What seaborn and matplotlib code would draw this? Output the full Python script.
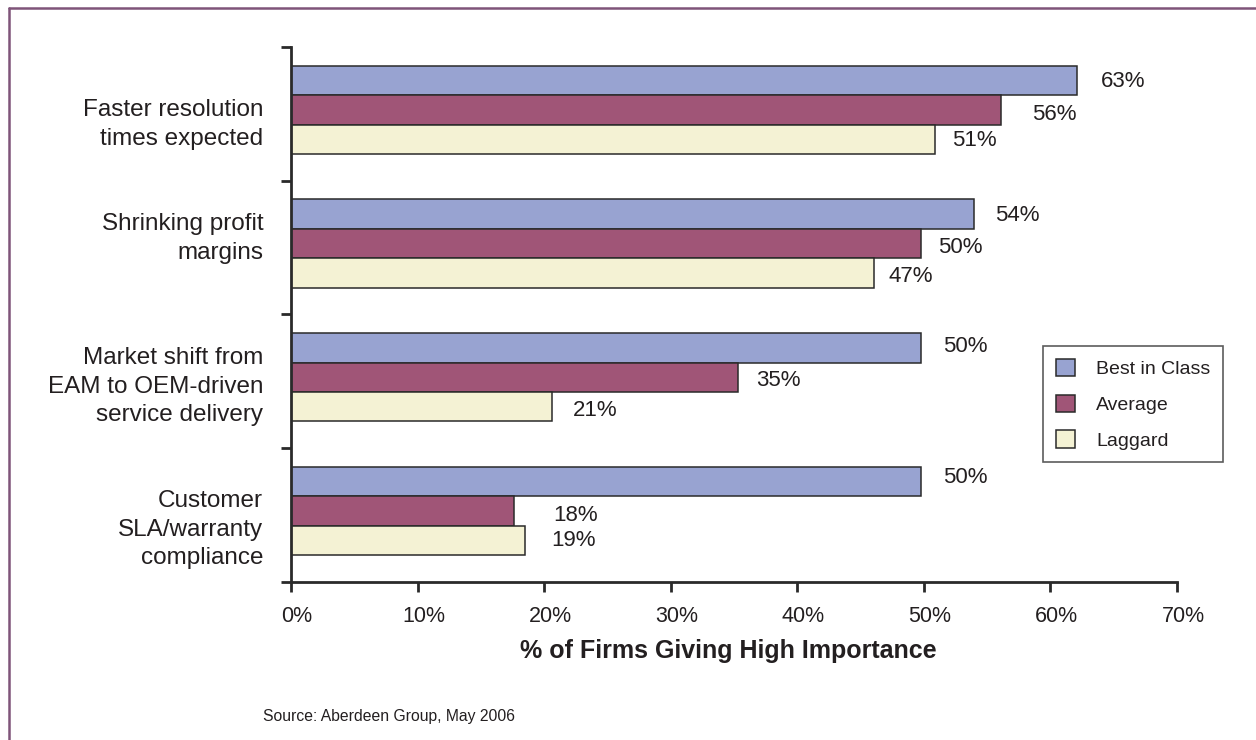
import matplotlib
matplotlib.use("Agg")
import matplotlib.pyplot as plt
from matplotlib.patches import Patch
from matplotlib.lines import Line2D
from matplotlib.transforms import ScaledTranslation
import seaborn as sns
import pandas as pd

# ---------------- data ----------------
categories = [
    "Faster resolution\ntimes expected",
    "Shrinking profit\nmargins",
    "Market shift from\nEAM to OEM-driven\nservice delivery",
    "Customer\nSLA/warranty\ncompliance",
]
groups = ["Best in Class", "Average", "Laggard"]
best_vals = [62.1, 54.0, 49.8, 49.8]
avg_vals = [56.1, 49.8, 35.3, 17.6]
lag_vals = [50.9, 46.1, 20.6, 18.5]
best_labels = ["63%", "54%", "50%", "50%"]
avg_labels = ["56%", "50%", "35%", "18%"]
lag_labels = ["51%", "47%", "21%", "19%"]
x_ticks = [0, 10, 20, 30, 40, 50, 60, 70]
x_tick_labels = ["0%", "10%", "20%", "30%", "40%", "50%", "60%", "70%"]
x_title = "% of Firms Giving High Importance"
source_text = "Source: Aberdeen Group, May 2006"

# ---------------- style ----------------
colors = ["#98A3D1", "#A05577", "#F4F2D4"]
edge = "#2a2a2a"
text_c = "#231f20"
frame_c = "#7f5479"
# label offsets in pixels (dx right, dy down) per group, per category
label_dx = [[24, 21, 22, 22], [31, 17, 18, 39], [17, 14, 21, 26]]
label_dy = [[1.5, 1, -1.5, -4], [5, 3.5, 3, 4], [1.5, 3, 4, 0]]
cat_label_y = [0.066, 0.918, 2.028, 3.098]

sns.set_theme(style="white")
plt.rcParams["font.family"] = ["Liberation Sans", "DejaVu Sans"]
plt.rcParams["text.color"] = text_c

rows = []
for i, c in enumerate(categories):
    rows.append({"category": c, "group": groups[0], "value": best_vals[i]})
    rows.append({"category": c, "group": groups[1], "value": avg_vals[i]})
    rows.append({"category": c, "group": groups[2], "value": lag_vals[i]})
df = pd.DataFrame(rows)

W, H = 1256, 740
fig = plt.figure(figsize=(W / 100, H / 100), dpi=100)
ax = fig.add_axes([291 / W, 1 - 582 / H, (1177 - 291) / W, (582 - 47) / H])

sns.barplot(data=df, x="value", y="category", hue="group", orient="h",
            order=categories, hue_order=groups, palette=colors,
            width=0.66, edgecolor=edge, linewidth=1.1, saturation=1,
            ax=ax, legend=False)

ax.set_xlim(0, 70)
ax.set_ylim(3.53, -0.47)

# value labels
all_vals = [best_vals, avg_vals, lag_vals]
all_labels = [best_labels, avg_labels, lag_labels]
for g in range(3):
    for i in range(len(categories)):
        y = i + (g - 1) * 0.22
        ax.annotate(all_labels[g][i], xy=(all_vals[g][i], y),
                    xytext=(label_dx[g][i] * 0.72, -label_dy[g][i] * 0.72),
                    textcoords="offset points", ha="left", va="center",
                    fontsize=16, color=text_c)

# axes styling
for s in ["top", "right"]:
    ax.spines[s].set_visible(False)
for s in ["left", "bottom"]:
    ax.spines[s].set_color(edge)
    ax.spines[s].set_linewidth(2.0)

ax.set_xticks(x_ticks)
ax.set_xticklabels(x_tick_labels)
ax.tick_params(axis="x", direction="out", length=7.2, width=2.0, color=edge,
               pad=10.0, labelsize=15.5, labelcolor=text_c, bottom=True)
shift = ScaledTranslation(6 / 100, 0, fig.dpi_scale_trans)
for lbl in ax.get_xticklabels():
    lbl.set_transform(lbl.get_transform() + shift)

ax.set_yticks(cat_label_y)
ax.set_yticklabels(categories, ha="right")
for lbl in ax.get_yticklabels():
    lbl.set_linespacing(1.38)
ax.set_yticks([-0.47 + k for k in range(5)], minor=True)
ax.tick_params(axis="y", which="major", length=0, pad=20, labelsize=17.5,
               labelcolor=text_c, left=True)
ax.tick_params(axis="y", which="minor", direction="out", length=7.2,
               width=2.0, color=edge, left=True)
ax.set_xlabel("")
ax.set_ylabel("")
ax.grid(False)

# x title and source
fig.text(728.5 / W, 1 - 651 / H, x_title, ha="center", va="center",
         fontsize=18, fontweight="bold", color=text_c)
fig.text(263 / W, 1 - 716 / H, source_text, ha="left", va="center",
         fontsize=11.3, color=text_c)

# legend
handles = [Patch(facecolor=colors[k], edgecolor=edge, linewidth=1.1,
                 label=groups[k]) for k in range(3)]
leg = fig.legend(handles=handles, loc="upper left",
                 bbox_to_anchor=(1043 / W, 1 - 346 / H), fontsize=14,
                 frameon=True, fancybox=False, edgecolor="#333333",
                 handlelength=1.0, handleheight=1.0, handletextpad=1.08,
                 labelspacing=0.85, borderpad=0.65, borderaxespad=0)
leg.get_frame().set_linewidth(1.2)
for t in leg.get_texts():
    t.set_color(text_c)

# purple frame (top and left visible)
fig.add_artist(Line2D([8.5 / W, 1.0], [1 - 7.5 / H, 1 - 7.5 / H],
                      transform=fig.transFigure, color=frame_c, linewidth=1.8))
fig.add_artist(Line2D([8.5 / W, 8.5 / W], [0.0, 1 - 7.5 / H],
                      transform=fig.transFigure, color=frame_c, linewidth=1.8))

fig.savefig("out.png", dpi=100)
